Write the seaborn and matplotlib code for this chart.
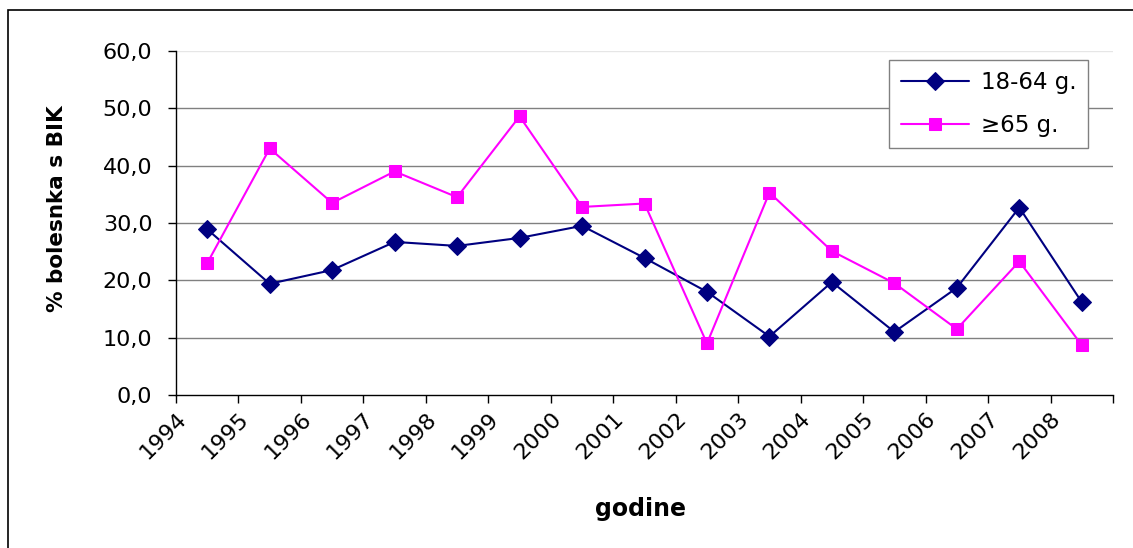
import numpy as np
import pandas as pd
import matplotlib
matplotlib.use("Agg")
import matplotlib.pyplot as plt
import matplotlib.patches as mpatches
from matplotlib.transforms import ScaledTranslation
from matplotlib.ticker import FuncFormatter
import seaborn as sns

years = ["1994", "1995", "1996", "1997", "1998", "1999", "2000", "2001",
         "2002", "2003", "2004", "2005", "2006", "2007", "2008"]
age_18_64 = [28.9, 19.4, 21.8, 26.7, 26.0, 27.4, 29.5, 23.9, 18.0, 10.2, 19.7, 11.0, 18.7, 32.7, 16.2]
age_65 = [23.0, 43.0, 33.5, 39.0, 34.5, 48.6, 32.8, 33.4, 9.0, 35.3, 25.1, 19.5, 11.5, 23.3, 8.7]
series_names = ["18-64 g.", "\u226565 g."]
y_ticks = [0, 10, 20, 30, 40, 50, 60]

sns.set_style("white")
plt.rcParams["font.family"] = ["DejaVu Sans"]
plt.rcParams["text.color"] = "black"

W, H = 1133, 548
fig = plt.figure(figsize=(W / 100, H / 100), dpi=100)
ax = fig.add_axes([176 / W, 1 - 395 / H, (1113 - 176) / W, (395 - 51) / H])

pos = np.arange(len(years)) + 0.5
df = pd.DataFrame({"pos": pos, "a": age_18_64, "b": age_65})

sns.lineplot(data=df, x="pos", y="a", ax=ax, color="#000080", marker="D",
             markersize=9, markeredgecolor="#000080", linewidth=1.5,
             label=series_names[0])
sns.lineplot(data=df, x="pos", y="b", ax=ax, color="#FF00FF", marker="s",
             markersize=9, markeredgecolor="#FF00FF", linewidth=1.5,
             label=series_names[1])

ax.set_xlim(0, len(years))
ax.set_ylim(0, 60)
ax.set_yticks(y_ticks)
ax.yaxis.set_major_formatter(FuncFormatter(lambda v, p: f"{v:.1f}".replace(".", ",")))
ax.set_xticks(np.arange(len(years) + 1))
ax.set_xticklabels(years + [""], rotation=45, ha="right", va="top",
                   rotation_mode="anchor")
for lab in ax.get_xticklabels():
    lab.set_transform(lab.get_transform() + ScaledTranslation(0.18, -0.3, fig.dpi_scale_trans))

ax.tick_params(axis="both", which="both", direction="out", length=6, width=1,
               color="black", labelsize=16, labelcolor="black")
ax.tick_params(axis="y", left=True, pad=11)
ax.tick_params(axis="x", bottom=True, pad=4)

ax.set_xlabel("")
ax.set_ylabel("")
ax.yaxis.grid(True, color="#808080", linewidth=1)
ax.set_axisbelow(True)
gl = ax.yaxis.get_gridlines()
gl[-1].set_color("#e6e6e6")
gl[0].set_visible(False)

for s in ["top", "right"]:
    ax.spines[s].set_visible(False)
for s in ["left", "bottom"]:
    ax.spines[s].set_color("black")
    ax.spines[s].set_linewidth(1)

leg = ax.legend(loc="upper left", bbox_to_anchor=(0.761, 0.974), fontsize=16.5,
                frameon=True, fancybox=False, edgecolor="#808080", framealpha=1,
                handlelength=3.0, labelspacing=0.85, borderpad=0.5,
                handletextpad=0.5, borderaxespad=0)
leg.get_frame().set_linewidth(1)
for t in leg.get_texts():
    t.set_color("black")

fig.text(57 / W, 1 - 209 / H, "% bolesnka s BIK", rotation=90, ha="center",
         va="center", fontsize=15.5, fontweight="bold", color="black")
fig.text(640 / W, 1 - 509 / H, "godine", ha="center", va="center",
         fontsize=17, fontweight="bold", color="black")

frame = mpatches.Rectangle((8 / W, -0.1), 1.2, 1.1 - 9.5 / H, transform=fig.transFigure,
                           fill=False, edgecolor="black", linewidth=1.2, clip_on=False)
fig.patches.append(frame)

fig.savefig("out.png", dpi=100, facecolor="white")
